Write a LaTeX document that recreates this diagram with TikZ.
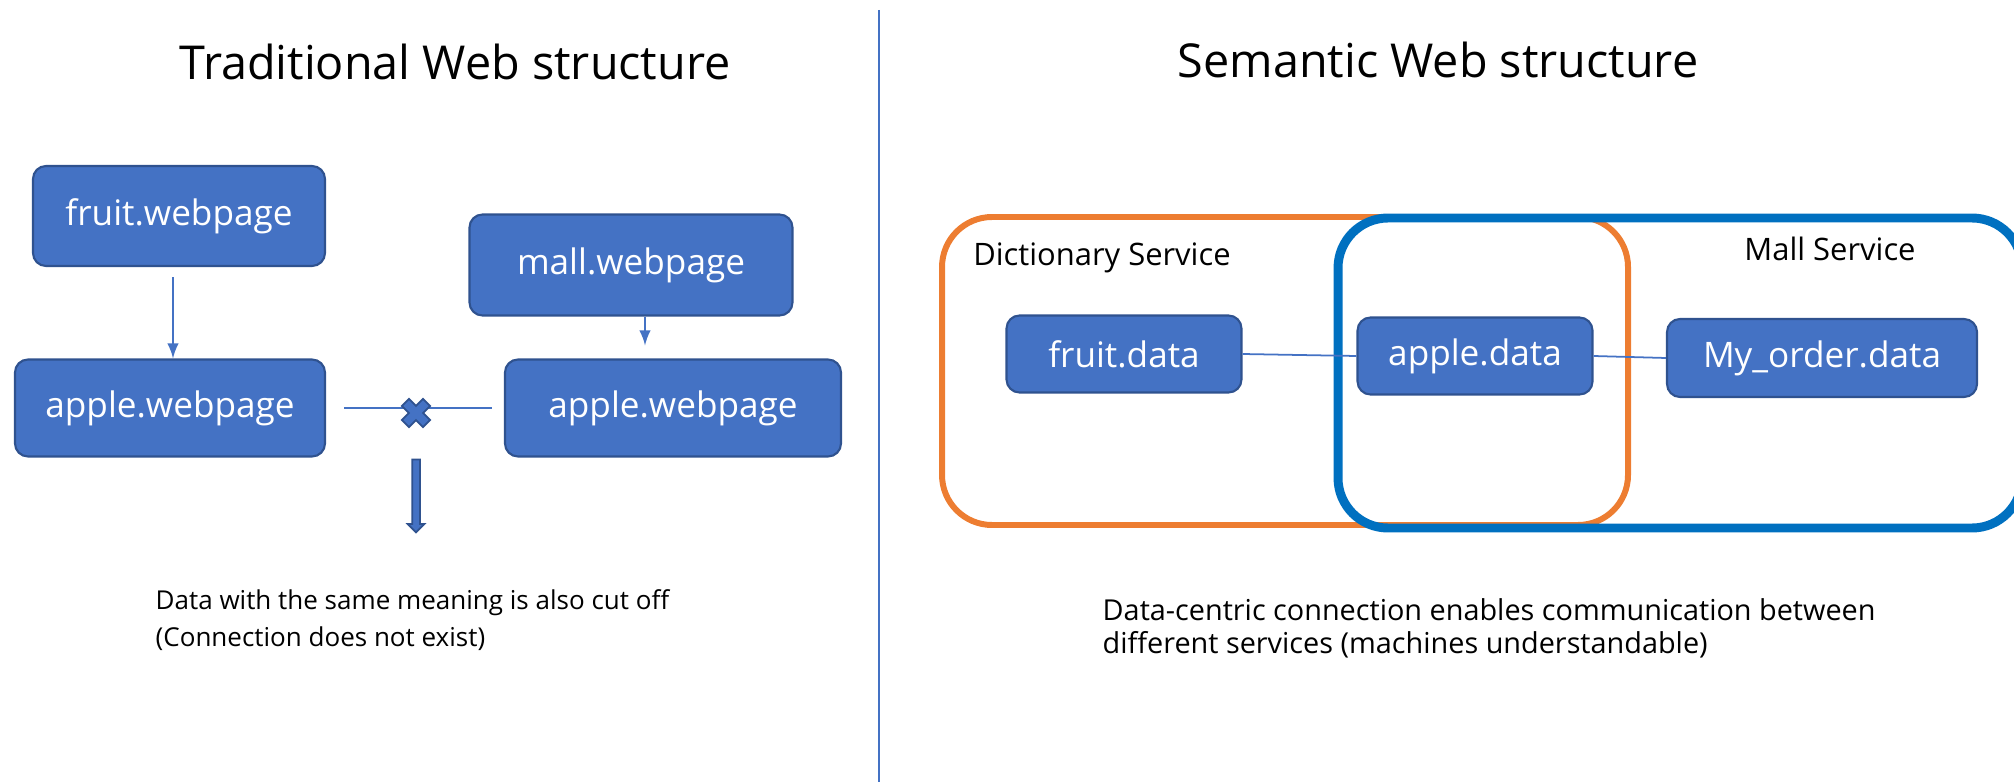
\documentclass[tikz,border=0pt]{standalone}
\usepackage{fontspec}
\setmainfont{Open Sans}
\usetikzlibrary{positioning,shapes.arrows}
\definecolor{boxblue}{HTML}{4472C4}
\definecolor{boxedge}{HTML}{2F528F}
\definecolor{dictorange}{HTML}{ED7D31}
\definecolor{mallblue}{HTML}{0070C0}

\begin{document}
\begin{tikzpicture}[x=0.1mm,y=-0.1mm,>=latex,font=\fontsize{10}{12}\selectfont]
    \tikzstyle{rec}=[draw=boxedge,line width=0.6pt,fill=boxblue,rounded corners=1.3mm,text=white,minimum height=9.7mm,inner sep=0pt]
    \tikzstyle{datarec}=[rec,minimum height=7.7mm]
    \tikzstyle{title}=[font=\fontsize{13.3}{15}\selectfont]
    \tikzstyle{svclabel}=[font=\fontsize{8.8}{10}\selectfont]
    \tikzstyle{note}=[align=left,anchor=west,inner sep=0pt]
    \tikzstyle{link}=[draw=boxblue,line width=0.5pt]
    \tikzstyle{svc}=[rounded corners=5mm,minimum height=30.8mm,inner sep=0pt]

    \useasboundingbox (0,0) rectangle (2014,782);

    \node[title] (tradtitle) at (455,62) {Traditional Web structure};
    \node[title] (semtitle) at (1438,60) {Semantic Web structure};
    \coordinate (divtop) at (879,10);
    \coordinate (divbot) at (879,782);
    \draw[link] (divtop) -- (divbot);

    % traditional web
    \node[rec, minimum width=29.2mm, minimum height=10mm] (fruitweb) at (179,216) {fruit.webpage};
    \node[rec, minimum width=32.3mm, minimum height=10.1mm] (mallweb) at (631,265) {mall.webpage};
    \node[rec, minimum width=31mm] (appleweb) at (170,408) {apple.webpage};
    \node[rec, minimum width=33.6mm] (appleweb2) at (673,408) {apple.webpage};

    \draw[->, link] ([xshift=-0.6mm,yshift=-1mm]fruitweb.south) -- ([xshift=-0.6mm]fruitweb.south |- appleweb.north);
    \draw[->, link] ([xshift=1.4mm]mallweb.south) -- ([xshift=1.4mm,yshift=1.3mm]mallweb.south |- appleweb2.north);
    \draw[link, shorten <=1.8mm, shorten >=1.2mm] (appleweb) -- (appleweb2);

    \coordinate (cut) at (416,413);
    \filldraw[fill=boxblue, draw=boxedge, line width=0.5pt, shift={(cut)}, rotate=45]
        (5,15) -- (5,5) -- (15,5) -- (15,-5) -- (5,-5) -- (5,-15) -- (-5,-15)
        -- (-5,-5) -- (-15,-5) -- (-15,5) -- (-5,5) -- (-5,15) -- cycle;
    \node[single arrow, fill=boxblue, draw=boxedge, line width=0.5pt, rotate=-90,
        minimum height=7.3mm, inner sep=0.3mm, single arrow head extend=0.45mm,
        single arrow head indent=0mm] (down) at (416,494) {};

    \node[note, font=\fontsize{7.4}{10.5}\selectfont] (tradnote) at (155,620) {Data with the same meaning is also cut off\\(Connection does not exist)};

    % semantic web
    \node[svc, draw=dictorange, line width=1.7pt, minimum width=68.6mm] (dictsvc) at (1285,371) {};
    \node[svc, draw=mallblue, line width=2.55pt, minimum width=68.4mm, minimum height=31mm] (mallsvc) at (1680,373) {};
    \node[svclabel] (dictlabel) at (1102,258) {Dictionary Service};
    \node[svclabel] (malllabel) at (1830,249) {Mall Service};

    \node[datarec, minimum width=23.5mm] (fruitdata) at (1124,354) {fruit.data};
    \node[datarec, minimum width=23.5mm] (appledata) at (1475,356) {apple.data};
    \node[datarec, minimum width=31mm, minimum height=7.8mm] (orderdata) at (1822,358) {My\_order.data};
    \draw[link] (fruitdata.east) -- (appledata.west);
    \draw[link] (appledata.east) -- (orderdata.west);

    \node[note, font=\fontsize{8.2}{9.4}\selectfont] (semnote) at (1102,628) {Data-centric connection enables communication between\\different services (machines understandable)};
\end{tikzpicture}
\end{document}
